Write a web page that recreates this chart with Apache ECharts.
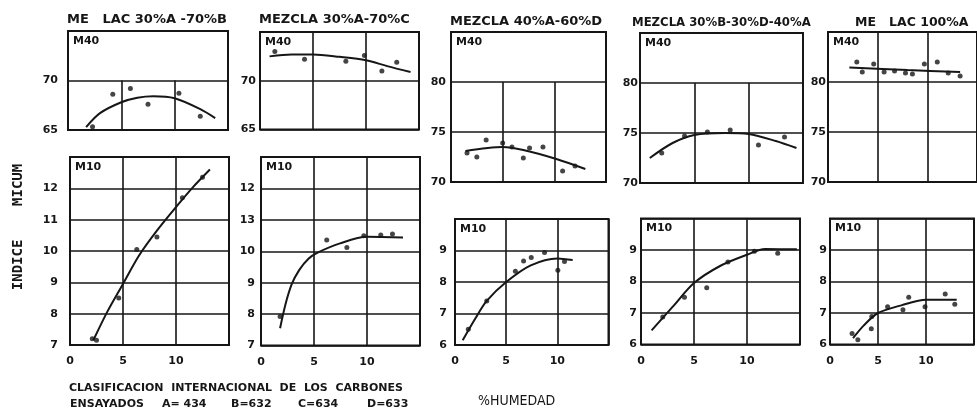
<!DOCTYPE html>
<html>
<head>
<meta charset="utf-8">
<script src="https://cdn.jsdelivr.net/npm/echarts@6/dist/echarts.min.js"></script>
<style>
  html, body { margin: 0; padding: 0; background: #fff; }
  #c { width: 977px; height: 410px; }
</style>
</head>
<body>
<div id="c"></div>
<script>
// ---- tick labels ----
const xTickLabels = ['0', '5', '10', ''];
const m40LowLabels = ['65', '70', ''];            // 65..75
const m40HighLabels = ['70', '75', '80', ''];     // 70..85
const m10LabelsA = ['7', '8', '9', '10', '11', '12', ''];
const m10LabelsB = ['7', '8', '9', '10', '13', '12', ''];
const m10LabelsN = ['6', '7', '8', '9', ''];

// ---- panel titles ----
const panelTitles = [
  'ME   LAC 30%A -70%B',
  'MEZCLA 30%A-70%C',
  'MEZCLA 40%A-60%D',
  'MEZCLA 30%B-30%D-40%A',
  'ME   LAC 100%A'
];

// ---- M40 measurements [% humedad, índice] and fitted curves ----
const m40Pts1 = [[2.3, 65.33], [4.2, 68.6], [5.85, 69.2], [7.5, 67.6], [10.4, 68.7], [12.4, 66.4]];
const m40Fit1 = [[1.7, 65.3], [3.0, 66.7], [5, 67.8], [6.5, 68.25], [8, 68.4], [10, 68.2], [12.4, 67.1], [13.8, 66.2]];
const m40Pts2 = [[1.4, 73.0], [4.2, 72.2], [8.1, 72.0], [9.85, 72.6], [11.5, 71.0], [12.9, 71.9]];
const m40Fit2 = [[0.9, 72.5], [3, 72.7], [5, 72.7], [7.5, 72.45], [10, 72.1], [12, 71.5], [14.2, 70.9]];
const m40Pts3 = [[1.55, 72.9], [2.5, 72.5], [3.4, 74.2], [5.0, 73.9], [5.9, 73.5], [7.0, 72.4], [7.6, 73.4], [8.9, 73.5], [10.8, 71.1], [12.0, 71.6]];
const m40Fit3 = [[1.4, 73.1], [5, 73.5], [7, 73.2], [10.2, 72.3], [13, 71.3]];
const m40Pts4 = [[2.0, 73.0], [4.1, 74.7], [6.2, 75.1], [8.3, 75.3], [10.9, 73.8], [13.3, 74.6]];
const m40Fit4 = [[0.9, 72.5], [3, 74.0], [5, 74.8], [7.8, 75.0], [10, 74.9], [12.5, 74.2], [14.4, 73.5]];
const m40Pts5 = [[2.9, 82.0], [3.45, 81.0], [4.6, 81.8], [5.65, 81.0], [6.7, 81.1], [7.8, 80.9], [8.5, 80.8], [9.7, 81.8], [11.0, 82.0], [12.1, 80.9], [13.3, 80.6]];
const m40Fit5 = [[2.15, 81.45], [8, 81.2], [13.3, 81.0]];

// ---- M10 measurements and fitted curves ----
const m10Pts1 = [[2.1, 7.2], [2.5, 7.15], [4.6, 8.5], [6.3, 10.05], [8.2, 10.45], [10.6, 11.7], [12.5, 12.35]];
const m10Fit1 = [[2.2, 7.15], [3.5, 8.05], [5, 8.95], [6.5, 9.85], [8.2, 10.65], [10, 11.4], [11.5, 12.0], [13.2, 12.6]];
const m10Pts2 = [[1.8, 7.92], [6.2, 10.36], [8.1, 10.12], [9.7, 10.49], [11.3, 10.52], [12.4, 10.55]];
const m10Fit2 = [[1.8, 7.55], [2.3, 8.3], [2.9, 8.95], [3.6, 9.4], [4.5, 9.77], [5.3, 9.95], [7.45, 10.25], [10, 10.46], [13.4, 10.44]];
const m10Pts3 = [[1.3, 6.5], [3.1, 7.4], [5.9, 8.34], [6.7, 8.67], [7.45, 8.78], [8.75, 8.94], [10.05, 8.37], [10.7, 8.65]];
const m10Fit3 = [[0.75, 6.15], [2, 6.85], [3.1, 7.4], [5, 8.0], [7.4, 8.53], [10, 8.75], [11.5, 8.7]];
const m10Pts4 = [[2.05, 6.87], [4.1, 7.5], [6.2, 7.8], [8.2, 8.62], [10.7, 8.96], [12.9, 8.9]];
const m10Fit4 = [[1, 6.45], [3, 7.2], [5, 7.95], [7.5, 8.5], [10, 8.85], [11.7, 9.03], [14.7, 9.02]];
const m10Pts5 = [[2.3, 6.35], [2.9, 6.15], [4.3, 6.5], [4.35, 6.89], [6.0, 7.2], [7.6, 7.1], [8.2, 7.5], [9.9, 7.2], [12.0, 7.6], [13.0, 7.28]];
const m10Fit5 = [[2.4, 6.2], [3.5, 6.6], [5, 7.0], [7.5, 7.25], [10, 7.42], [13.2, 7.42]];

// ---- layout of each frame: [left, top, width, height] ----
const INK = '#161616';
const FONT = 'DejaVu Sans';

const cells = [
  // upper row (M40)
  { tag: 'M40', box: [68, 31, 160, 99],   y: [65, 75], step: 5, labels: m40LowLabels,  margin: 10, vFull: false, vSpan: [65, 70], pts: m40Pts1, fit: m40Fit1, xLab: false },
  { tag: 'M40', box: [260, 32, 159, 97.5], y: [65, 75], step: 5, labels: m40LowLabels, margin: 4,  vFull: true,  pts: m40Pts2, fit: m40Fit2, xLab: false },
  { tag: 'M40', box: [451, 32, 155, 150], y: [70, 85], step: 5, labels: m40HighLabels, margin: 5,  vFull: false, vSpan: [70, 80], pts: m40Pts3, fit: m40Fit3, xLab: false },
  { tag: 'M40', box: [640, 33, 163, 150], y: [70, 85], step: 5, labels: m40HighLabels, margin: 2,  vFull: false, vSpan: [70, 80], pts: m40Pts4, fit: m40Fit4, xLab: false },
  { tag: 'M40', box: [828, 32, 162, 150], y: [70, 85], step: 5, labels: m40HighLabels, margin: 2,  vFull: true,  pts: m40Pts5, fit: m40Fit5, xLab: false },
  // lower row (M10)
  { tag: 'M10', box: [70, 157, 159, 188],   y: [7, 13], step: 1, labels: m10LabelsA, margin: 12, vFull: true, pts: m10Pts1, fit: m10Fit1, xLab: true },
  { tag: 'M10', box: [261, 157, 159, 188.5], y: [7, 13], step: 1, labels: m10LabelsB, margin: 6, vFull: true, pts: m10Pts2, fit: m10Fit2, xLab: true },
  { tag: 'M10', box: [455, 219, 153.5, 126], y: [6, 10], step: 1, labels: m10LabelsN, margin: 8, vFull: true, pts: m10Pts3, fit: m10Fit3, xLab: true },
  { tag: 'M10', box: [641, 218.5, 159, 126], y: [6, 10], step: 1, labels: m10LabelsN, margin: 4, vFull: true, pts: m10Pts4, fit: m10Fit4, xLab: true },
  { tag: 'M10', box: [830, 218.5, 160, 126], y: [6, 10], step: 1, labels: m10LabelsN, margin: 3, vFull: true, pts: m10Pts5, fit: m10Fit5, xLab: true }
];

// title anchor and font size per panel
const titleSpec = [[67, 20, 13], [259, 20, 13], [450, 22, 13], [632, 23, 11.7], [855, 23, 12.5]];

const grids = [], xAxes = [], yAxes = [], series = [], graphics = [];
const labelFont = { color: INK, fontFamily: FONT, fontWeight: 'bold', fontSize: 11 };

cells.forEach((c, i) => {
  const [l, t, w, h] = c.box;
  grids.push({ left: l, top: t, width: w, height: h, show: true,
    borderColor: INK, borderWidth: 2, backgroundColor: 'transparent', containLabel: false });

  xAxes.push({ type: 'value', gridIndex: i, min: 0, max: 15, interval: 5,
    axisLine: { show: false }, axisTick: { show: false },
    axisLabel: Object.assign({ show: c.xLab, margin: 11,
      formatter: v => xTickLabels[Math.round(v / 5)] }, labelFont),
    splitLine: { show: c.vFull, lineStyle: { color: INK, width: 1.6 } } });

  yAxes.push({ type: 'value', gridIndex: i, min: c.y[0], max: c.y[1], interval: c.step,
    axisLine: { show: false }, axisTick: { show: false },
    axisLabel: Object.assign({ margin: c.margin,
      formatter: v => c.labels[Math.round((v - c.y[0]) / c.step)] || '' }, labelFont),
    splitLine: { show: true, lineStyle: { color: INK, width: 1.6 } } });

  const scatter = { type: 'scatter', xAxisIndex: i, yAxisIndex: i, data: c.pts,
    symbol: 'circle', symbolSize: 5, itemStyle: { color: INK }, z: 4 };

  if (!c.vFull) {
    // vertical rules only across the gridded part of the frame
    scatter.markLine = { silent: true, symbol: 'none', label: { show: false },
      lineStyle: { color: INK, width: 1.6, type: 'solid' },
      data: [5, 10].map(x => [{ coord: [x, c.vSpan[0]] }, { coord: [x, c.vSpan[1]] }]) };
  }
  series.push(scatter);
  series.push({ type: 'line', xAxisIndex: i, yAxisIndex: i, data: c.fit, smooth: 0.3,
    showSymbol: false, lineStyle: { color: INK, width: 2 }, z: 3 });

  graphics.push({ type: 'text', x: l + 5, y: t + 10,
    style: { text: c.tag, font: 'bold 11px ' + FONT, fill: INK,
      textAlign: 'left', textVerticalAlign: 'middle' } });
});

panelTitles.forEach((txt, i) => {
  const [x, y, fs] = titleSpec[i];
  graphics.push({ type: 'text', x: x, y: y,
    style: { text: txt, font: 'bold ' + fs + 'px ' + FONT, fill: INK,
      textAlign: 'left', textVerticalAlign: 'middle' } });
});

// axis title and footnotes
graphics.push({ type: 'text', x: 18, y: 227, rotation: Math.PI / 2,
  style: { text: 'INDICE    MICUM', font: 'bold 14px DejaVu Sans Mono', fill: INK,
    textAlign: 'center', textVerticalAlign: 'middle' } });
graphics.push({ type: 'text', x: 69, y: 388,
  style: { text: 'CLASIFICACION  INTERNACIONAL  DE  LOS  CARBONES', font: 'bold 11px ' + FONT, fill: INK,
    textAlign: 'left', textVerticalAlign: 'middle' } });
const footItems = [['ENSAYADOS', 70], ['A= 434', 162], ['B=632', 231], ['C=634', 298], ['D=633', 367]];
footItems.forEach(([s, x]) => graphics.push({ type: 'text', x: x, y: 404,
  style: { text: s, font: 'bold 11px ' + FONT, fill: INK, textAlign: 'left', textVerticalAlign: 'middle' } }));
graphics.push({ type: 'text', x: 478, y: 401,
  style: { text: '%HUMEDAD', font: '14px DejaVu Sans Condensed', fill: INK,
    textAlign: 'left', textVerticalAlign: 'middle' } });

const chart = echarts.init(document.getElementById('c'));
chart.setOption({
  animation: false,
  backgroundColor: '#fff',
  grid: grids,
  xAxis: xAxes,
  yAxis: yAxes,
  series: series,
  graphic: graphics
});
</script>
</body>
</html>
